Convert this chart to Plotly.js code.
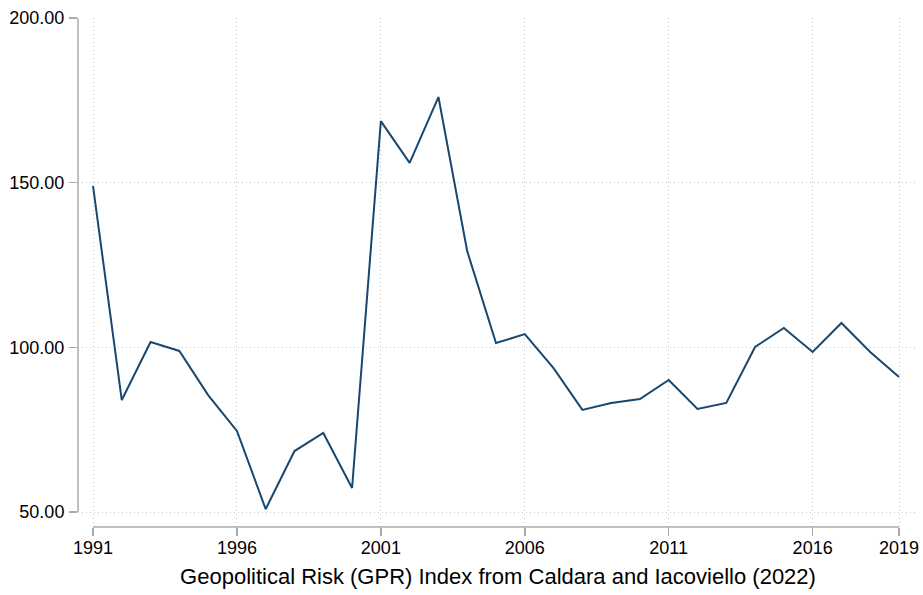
<!DOCTYPE html>
<html><head><meta charset="utf-8">
<script src="https://cdn.plot.ly/plotly-3.0.1.min.js"></script>
<style>html,body{margin:0;padding:0;background:#fff}#chart{width:923px;height:595px}</style>
</head><body><div id="chart"></div>
<script>
const years = [1991,1992,1993,1994,1995,1996,1997,1998,1999,2000,2001,2002,2003,2004,2005,2006,2007,2008,2009,2010,2011,2012,2013,2014,2015,2016,2017,2018,2019];
const gpr = [149.0,84.0,101.6,98.9,85.5,74.6,50.9,68.5,74.0,57.3,168.7,156.0,176.0,129.2,101.3,104.0,93.7,81.0,83.1,84.3,90.1,81.3,83.1,100.1,105.9,98.6,107.4,98.6,91.0];
const xTicks = [1991,1996,2001,2006,2011,2016,2019];
const yTicks = [50,100,150,200];
const xTitle = "Geopolitical Risk (GPR) Index from Caldara and Iacoviello (2022)";

const font = "Liberation Sans, Arial, Helvetica, sans-serif";
const trace = {x: years, y: gpr, type: 'scatter', mode: 'lines',
  line: {color: '#1a476f', width: 2}, hoverinfo: 'skip'};
const layout = {
  width: 923, height: 595,
  margin: {l: 78, r: 5, t: 18, b: 68},
  paper_bgcolor: '#fff', plot_bgcolor: '#fff',
  showlegend: false,
  font: {family: font, size: 18, color: '#000'},
  xaxis: {range: [1990.479, 2019.66], tickvals: xTicks, ticktext: xTicks.map(String),
    showgrid: true, gridcolor: '#c4c4c4', griddash: '1px,3px', gridwidth: 1,
    zeroline: false, showline: false, ticks: 'outside', ticklen: 8, tickcolor: '#aaaaaa', tickwidth: 1.5,
    tickfont: {size: 18, family: font}, ticklabelstandoff: -4,
    title: {text: xTitle, font: {size: 22, family: font}, standoff: 12}},
  yaxis: {range: [45.445, 200], tickvals: yTicks, ticktext: yTicks.map(v => v.toFixed(2)),
    showgrid: true, gridcolor: '#c4c4c4', griddash: '1px,3px', gridwidth: 1,
    zeroline: false, showline: false, ticks: 'outside', ticklen: 8, tickcolor: '#aaaaaa', tickwidth: 1.5,
    tickfont: {size: 18, family: font}, ticklabelstandoff: 1},
  shapes: [
    {type: 'line', xref: 'paper', yref: 'y', x0: 0, x1: 0, y0: 50, y1: 200, line: {color: '#aaaaaa', width: 1.5}},
    {type: 'line', xref: 'x', yref: 'paper', x0: 1991, x1: 2019, y0: 0, y1: 0, line: {color: '#aaaaaa', width: 1.5}}
  ]
};
Plotly.newPlot('chart', [trace], layout, {staticPlot: true});
</script></body></html>
